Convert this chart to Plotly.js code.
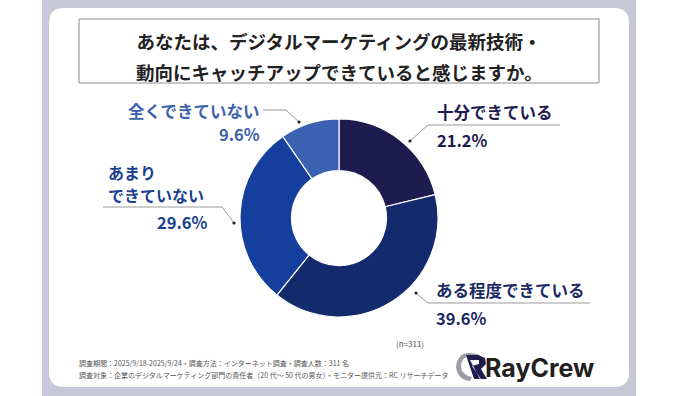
<!DOCTYPE html>
<html>
<head>
<meta charset="utf-8">
<script src="https://cdn.plot.ly/plotly-3.0.1.min.js"></script>
<style>html,body{margin:0;padding:0;background:#fff;}#chart{width:678px;height:396px;}</style>
</head>
<body>
<div id="chart"></div>
<script>
// ---- data ----
const categories = ['十分できている', 'ある程度できている', 'あまりできていない', '全くできていない'];
const shares = [21.2, 39.6, 29.6, 9.6];
const sliceColors = ['#1e1b4f', '#132a6c', '#143f9c', '#3a62b1'];
const textColors = ['#1e1b4f', '#1b2a62', '#1a3f8f', '#3d62ab'];
const questionLines = ['あなたは、デジタルマーケティングの最新技術・', '動向にキャッチアップできていると感じますか。'];
const sampleNote = '(n=311)';
const footerLines = [
  '調査期間：2025/9/18-2025/9/24・調査方法：インターネット調査・調査人数：311 名',
  '調査対象：企業のデジタルマーケティング部門の責任者（20 代～ 50 代の男女）・モニター提供元：RC リサーチデータ'
];
const brand = 'RayCrew';

// ---- helpers (pixel -> paper) ----
const W = 678, H = 396;
const X = px => px / W;
const Y = py => 1 - py / H;
const f = (a, b) => X(a).toFixed(5) + ',' + Y(b).toFixed(5);
const P = pts => pts.map((p, i) => (i ? 'L' : 'M') + f(p[0], p[1])).join(' ');
function roundRect(x0, y0, x1, y1, r) {
  return 'M' + f(x0 + r, y0) + ' L' + f(x1 - r, y0) + ' Q' + f(x1, y0) + ' ' + f(x1, y0 + r) +
    ' L' + f(x1, y1 - r) + ' Q' + f(x1, y1) + ' ' + f(x1 - r, y1) +
    ' L' + f(x0 + r, y1) + ' Q' + f(x0, y1) + ' ' + f(x0, y1 - r) +
    ' L' + f(x0, y0 + r) + ' Q' + f(x0, y0) + ' ' + f(x0 + r, y0) + ' Z';
}

const JP = '"Noto Sans CJK JP", "Noto Sans", sans-serif';
const cx = 339, cy = 218, R = 99;

const trace = {
  type: 'pie',
  labels: categories,
  values: shares,
  sort: false,
  direction: 'clockwise',
  rotation: 0,
  hole: 0.48,
  textinfo: 'none',
  hoverinfo: 'label+percent',
  marker: { colors: sliceColors, line: { color: '#ffffff', width: 1.2 } },
  domain: { x: [X(cx - R), X(cx + R)], y: [Y(cy + R), Y(cy - R)] },
  showlegend: false
};

const shapes = [];
// gray frame
shapes.push({ type: 'rect', xref: 'paper', yref: 'paper', x0: X(42), x1: X(636), y0: 0, y1: 1, line: { width: 0 }, fillcolor: '#c6c8d7', layer: 'below' });
// white card
shapes.push({ type: 'path', xref: 'paper', yref: 'paper', path: roundRect(49, 8, 629, 387, 15), line: { width: 0 }, fillcolor: '#ffffff', layer: 'below' });
// title box
shapes.push({ type: 'rect', xref: 'paper', yref: 'paper', x0: X(79), x1: X(599), y0: Y(83), y1: Y(19), line: { color: '#8c8c8c', width: 1 }, fillcolor: 'rgba(0,0,0,0)', layer: 'below' });

// leader lines + dots
const leaders = [
  [[410, 141], [428, 125], [560, 125]],
  [[416, 293], [428, 303], [590, 303]],
  [[234, 223], [222, 207], [103, 207]],
  [[299, 122], [286, 110], [263, 110]]
];
leaders.forEach(pts => {
  shapes.push({ type: 'path', xref: 'paper', yref: 'paper', path: P(pts), line: { color: '#9a9a9a', width: 1 } });
  const d = pts[0];
  shapes.push({ type: 'circle', xref: 'paper', yref: 'paper', x0: X(d[0] - 1.6), x1: X(d[0] + 1.6), y0: Y(d[1] + 1.6), y1: Y(d[1] - 1.6), line: { width: 0 }, fillcolor: '#222222' });
});

// logo icon (approximation)
shapes.push({ type: 'path', xref: 'paper', yref: 'paper',
  path: 'M' + f(480, 355) + ' Q' + f(458, 348) + ' ' + f(456, 367) +
        ' Q' + f(458, 380) + ' ' + f(470, 381) +
        ' L' + f(472, 377) + ' Q' + f(461, 375) + ' ' + f(461, 366) +
        ' Q' + f(462, 353) + ' ' + f(478, 358) + ' Z',
  line: { width: 0 }, fillcolor: '#9c9ca4' });
shapes.push({ type: 'path', xref: 'paper', yref: 'paper',
  path: P([[466, 355], [478, 355], [485, 358], [486, 364], [481, 369], [487, 379], [481, 379], [472, 366], [479, 364], [479, 360], [470, 360], [480, 379], [474, 379]]) + ' Z',
  line: { width: 0 }, fillcolor: '#1e1b4f' });

const ann = [];
function txt(text, x, y, xanchor, size, color, extra) {
  ann.push(Object.assign({ text: text, xref: 'paper', yref: 'paper', x: X(x), y: Y(y), xanchor: xanchor, yanchor: 'middle',
    showarrow: false, borderpad: 0, font: { family: JP, size: size, color: color } }, extra || {}));
}
// second line of the question (first line is the layout title)
txt('<b>' + questionLines[1] + '</b>', 339, 72, 'center', 18.5, '#222222');
// category labels
txt('<b>' + categories[0] + '</b>', 436, 112, 'left', 16.5, textColors[0]);
txt('<b>' + shares[0].toFixed(1) + '%</b>', 436, 140, 'left', 16.5, textColors[0]);
txt('<b>' + categories[1] + '</b>', 435, 290, 'left', 16.5, textColors[1]);
txt('<b>' + shares[1].toFixed(1) + '%</b>', 435, 318, 'left', 16.5, textColors[1]);
txt('<b>' + categories[2].slice(0, 3) + '</b>', 107, 172, 'left', 16, textColors[2]);
txt('<b>' + categories[2].slice(3) + '</b>', 107, 195, 'left', 16, textColors[2]);
txt('<b>' + shares[2].toFixed(1) + '%</b>', 209, 222, 'right', 16.5, textColors[2]);
txt('<b>' + categories[3] + '</b>', 261, 111, 'right', 16.5, textColors[3]);
txt('<b>' + shares[3].toFixed(1) + '%</b>', 261, 134, 'right', 16.5, textColors[3]);
// notes
txt(sampleNote, 410, 343, 'center', 8, '#555555');
txt(footerLines[0], 78, 363, 'left', 7, '#555555');
txt(footerLines[1], 78, 375, 'left', 7, '#555555');
txt('<b>' + brand + '</b>', 484, 368, 'left', 25, '#231f20', { font: { family: 'Inter, Lato, sans-serif', size: 25, color: '#231f20' } });

const layout = {
  width: W, height: H,
  margin: { l: 0, r: 0, t: 0, b: 0 },
  paper_bgcolor: '#ffffff',
  plot_bgcolor: '#ffffff',
  title: { text: '<b>' + questionLines[0] + '</b>', font: { family: JP, size: 18.5, color: '#222222' },
           x: X(339), xanchor: 'center', y: Y(43), yanchor: 'middle', xref: 'paper', yref: 'paper' },
  shapes: shapes,
  annotations: ann,
  showlegend: false
};

Plotly.newPlot('chart', [trace], layout, { displayModeBar: false, staticPlot: true });
</script>
</body>
</html>
